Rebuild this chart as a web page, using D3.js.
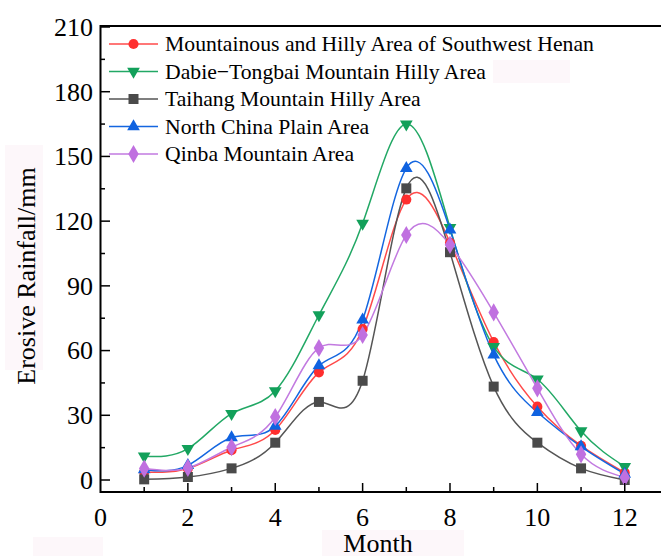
<!DOCTYPE html>
<html>
<head>
<meta charset="utf-8">
<script src="https://cdn.jsdelivr.net/npm/d3@7"></script>
<style>
  body { margin: 0; background: #fff; }
  svg { display: block; font-family: "Liberation Serif", "Times New Roman", serif; }
</style>
</head>
<body>
<script>
const width = 661, height = 556;

// data
const months = [1, 2, 3, 4, 5, 6, 7, 8, 9, 10, 11, 12];
const southwestHenan = [3.7, 5.3, 13.8, 23.2, 49.9, 70, 130, 110, 64, 34, 15.9, 3.4];
const dabieTongbai = [11, 14.5, 30.8, 41.3, 76.5, 119, 165, 117, 61.8, 46.7, 22.7, 6.2];
const taihang = [0.3, 1.4, 5.4, 17.3, 36.2, 46, 135.2, 105.6, 43.3, 17.3, 5.4, 0];
const northChina = [4.8, 6.8, 19.7, 25, 53, 74.2, 144.5, 116, 58, 31.4, 15.5, 2.8];
const qinba = [5.3, 5.6, 15.2, 29.2, 61.2, 67.2, 113.6, 109, 77.7, 42.5, 11.9, 1.2];

const seriesNames = [
  "Mountainous and Hilly Area of Southwest Henan",
  "Dabie\u2212Tongbai Mountain Hilly Area",
  "Taihang Mountain Hilly Area",
  "North China Plain Area",
  "Qinba Mountain Area"
];
const seriesValues = [southwestHenan, dabieTongbai, taihang, northChina, qinba];
const xTicks = [0, 2, 4, 6, 8, 10, 12];
const yTicks = [0, 30, 60, 90, 120, 150, 180, 210];

const styles = [
  {line: "#ff4a4a", fill: "#ff2e2e", sym: d3.symbolCircle, size: 80, rot: 0},
  {line: "#22a865", fill: "#12a05a", sym: d3.symbolTriangle, size: 70, rot: 180},
  {line: "#555555", fill: "#4a4a4a", sym: d3.symbolSquare, size: 100, rot: 0},
  {line: "#1466e0", fill: "#0f62e0", sym: d3.symbolTriangle, size: 70, rot: 0},
  {line: "#c27ae0", fill: "#c070e0", sym: d3.symbolDiamond, size: 95, rot: 0}
];

const x = d3.scaleLinear().domain([0, 12.83]).range([100.5, 661]);
const y = d3.scaleLinear().domain([-5.56, 210]).range([492, 27]);

const svg = d3.select("body").append("svg")
  .attr("width", width).attr("height", height);

// faint tinted boxes that sit behind some texts in the source image
const tint = "#fdf7fa";
[[322, 530, 142, 26], [33, 537, 70, 19], [5, 145, 38, 225], [493, 60, 77, 23]].forEach(r => {
  svg.append("rect").attr("x", r[0]).attr("y", r[1]).attr("width", r[2]).attr("height", r[3]).attr("fill", tint);
});

// series lines
const line = d3.line()
  .x((d, i) => x(months[i]))
  .y(d => y(d))
  .curve(d3.curveNatural);

seriesValues.forEach((vals, k) => {
  svg.append("path")
    .attr("d", line(vals))
    .attr("fill", "none")
    .attr("stroke", styles[k].line)
    .attr("stroke-width", 1.5);
});

// markers
seriesValues.forEach((vals, k) => {
  const st = styles[k];
  const sym = d3.symbol().type(st.sym).size(st.size);
  svg.append("g").selectAll("path")
    .data(vals)
    .join("path")
    .attr("d", sym)
    .attr("fill", st.fill)
    .attr("transform", (d, i) => `translate(${x(months[i])},${y(d)}) rotate(${st.rot})`);
});

// axes frame
const axisColor = "#000";
svg.append("line").attr("x1", x.range()[0]).attr("x2", width).attr("y1", 492).attr("y2", 492)
  .attr("stroke", axisColor).attr("stroke-width", 2);
svg.append("line").attr("x1", x.range()[0]).attr("x2", width).attr("y1", 26).attr("y2", 26)
  .attr("stroke", axisColor).attr("stroke-width", 2);
svg.append("line").attr("x1", 100.5).attr("x2", 100.5).attr("y1", 25).attr("y2", 493)
  .attr("stroke", axisColor).attr("stroke-width", 2);

// x ticks (inward)
const xMinor = d3.range(1, 13, 2);
svg.append("g").selectAll("line.major").data(xTicks.slice(1)).join("line")
  .attr("x1", d => x(d)).attr("x2", d => x(d)).attr("y1", 492).attr("y2", 483)
  .attr("stroke", axisColor).attr("stroke-width", 1.5);
svg.append("g").selectAll("line").data(xMinor).join("line")
  .attr("x1", d => x(d)).attr("x2", d => x(d)).attr("y1", 492).attr("y2", 487)
  .attr("stroke", axisColor).attr("stroke-width", 1.5);
svg.append("g").selectAll("text").data(xTicks).join("text")
  .attr("x", d => x(d)).attr("y", 526)
  .attr("text-anchor", "middle")
  .attr("font-size", 26)
  .text(d => d);

// y ticks (inward)
const yMinor = d3.range(15, 210, 30);
svg.append("g").selectAll("line").data(yTicks).join("line")
  .attr("x1", 100.5).attr("x2", 110).attr("y1", d => y(d)).attr("y2", d => y(d))
  .attr("stroke", axisColor).attr("stroke-width", 1.5);
svg.append("g").selectAll("line").data(yMinor).join("line")
  .attr("x1", 100.5).attr("x2", 105).attr("y1", d => y(d)).attr("y2", d => y(d))
  .attr("stroke", axisColor).attr("stroke-width", 1.5);
svg.append("g").selectAll("text").data(yTicks).join("text")
  .attr("x", 93).attr("y", d => y(d))
  .attr("dy", "0.34em")
  .attr("text-anchor", "end")
  .attr("font-size", 26)
  .text(d => d);

// axis titles
svg.append("text")
  .attr("transform", "translate(35,276) rotate(-90)")
  .attr("text-anchor", "middle")
  .attr("font-size", 26)
  .text("Erosive Rainfall/mm");
svg.append("text")
  .attr("x", 378).attr("y", 552)
  .attr("text-anchor", "middle")
  .attr("font-size", 26)
  .text("Month");

// legend
const legendY = [44, 71.5, 99, 126.5, 154];
seriesNames.forEach((name, k) => {
  const st = styles[k];
  const g = svg.append("g").attr("transform", `translate(0,${legendY[k]})`);
  g.append("line").attr("x1", 109).attr("x2", 158).attr("y1", 0).attr("y2", 0)
    .attr("stroke", st.line).attr("stroke-width", 1.5);
  g.append("path")
    .attr("d", d3.symbol().type(st.sym).size(st.size)())
    .attr("fill", st.fill)
    .attr("transform", `translate(133.5,0) rotate(${st.rot})`);
  g.append("text").attr("x", 165).attr("y", 0).attr("dy", "0.34em")
    .attr("font-size", 21.7)
    .text(name);
});
</script>
</body>
</html>
